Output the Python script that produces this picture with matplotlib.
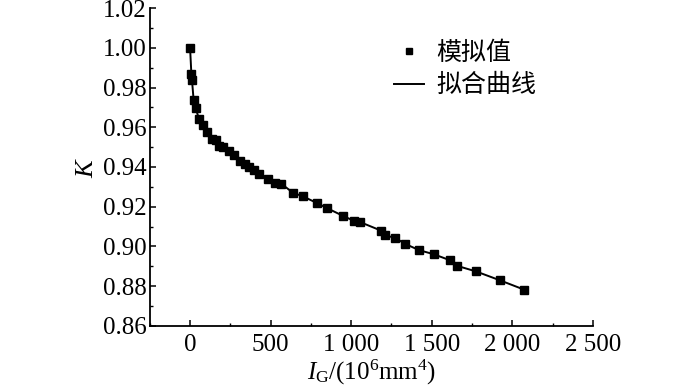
import numpy as np
import matplotlib.pyplot as plt
from matplotlib.ticker import MultipleLocator, FuncFormatter

plt.rcParams['font.family'] = ['Liberation Serif', 'Noto Sans CJK SC']
plt.rcParams['mathtext.fontset'] = 'custom'
plt.rcParams['mathtext.rm'] = 'Liberation Serif'
plt.rcParams['mathtext.it'] = 'Liberation Serif:italic'

# simulated values
ig = [0, 8, 12, 22, 35, 55, 80, 105, 135, 158, 179, 203, 240, 271, 310, 343,
      368, 396, 427, 482, 525, 567, 639, 698, 786, 852, 946, 1016, 1057, 1184,
      1209, 1273, 1334, 1422, 1511, 1611, 1658, 1775, 1921, 2071]
k = [1.000, 0.9868, 0.9836, 0.9737, 0.9695, 0.9643, 0.9611, 0.9575, 0.9540,
     0.9536, 0.9507, 0.9502, 0.9480, 0.9459, 0.9432, 0.9414, 0.9399, 0.9385,
     0.9365, 0.9341, 0.9321, 0.9315, 0.9270, 0.9253, 0.9219, 0.9192, 0.9155,
     0.9129, 0.9122, 0.9080, 0.9056, 0.9043, 0.9013, 0.8981, 0.8961, 0.8931,
     0.8902, 0.8874, 0.8830, 0.8783]

fig = plt.figure(figsize=(7, 3.87), dpi=100)
ax = fig.add_axes([0.214, 0.158, 0.633, 0.821])

ax.plot(ig, k, '-', color='black', lw=1.4, label='拟合曲线', zorder=2)
ax.plot(ig, k, 's', color='black', ms=5.5, label='模拟值', zorder=3)

ax.set_xlim(-250, 2500)
ax.set_ylim(0.86, 1.02)
ax.xaxis.set_major_locator(MultipleLocator(500))
ax.xaxis.set_minor_locator(MultipleLocator(250))
ax.yaxis.set_major_locator(MultipleLocator(0.02))
ax.yaxis.set_minor_locator(MultipleLocator(0.01))
ax.xaxis.set_major_formatter(FuncFormatter(
    lambda v, p: f'{int(v):,}'.replace(',', ' ')))
ax.yaxis.set_major_formatter(FuncFormatter(lambda v, p: f'{v:.2f}'))

for s in ['top', 'right']:
    ax.spines[s].set_visible(False)
for s in ['left', 'bottom']:
    ax.spines[s].set_linewidth(1.3)
ax.tick_params(which='major', direction='in', length=4, width=1.1,
               labelsize=18)
ax.tick_params(axis='y', which='major', pad=2)
ax.tick_params(axis='x', which='major', pad=6)
ax.tick_params(which='minor', direction='in', length=2, width=1.0)

ax.set_xlabel(r'$I_{\rm G}$/(10$^6$mm$^4$)', fontsize=18, labelpad=1)
ax.set_ylabel(r'$K$', fontsize=19, labelpad=4)

h, l = ax.get_legend_handles_labels()
ax.legend([h[1], h[0]], [l[1], l[0]], loc='upper left',
          bbox_to_anchor=(0.5, 0.97), frameon=False,
          prop={'family': 'Noto Sans CJK SC', 'size': 18},
          handlelength=1.2, handletextpad=0.5, labelspacing=0.25,
          markerscale=0.7)

fig.savefig('out.png', dpi=100)
